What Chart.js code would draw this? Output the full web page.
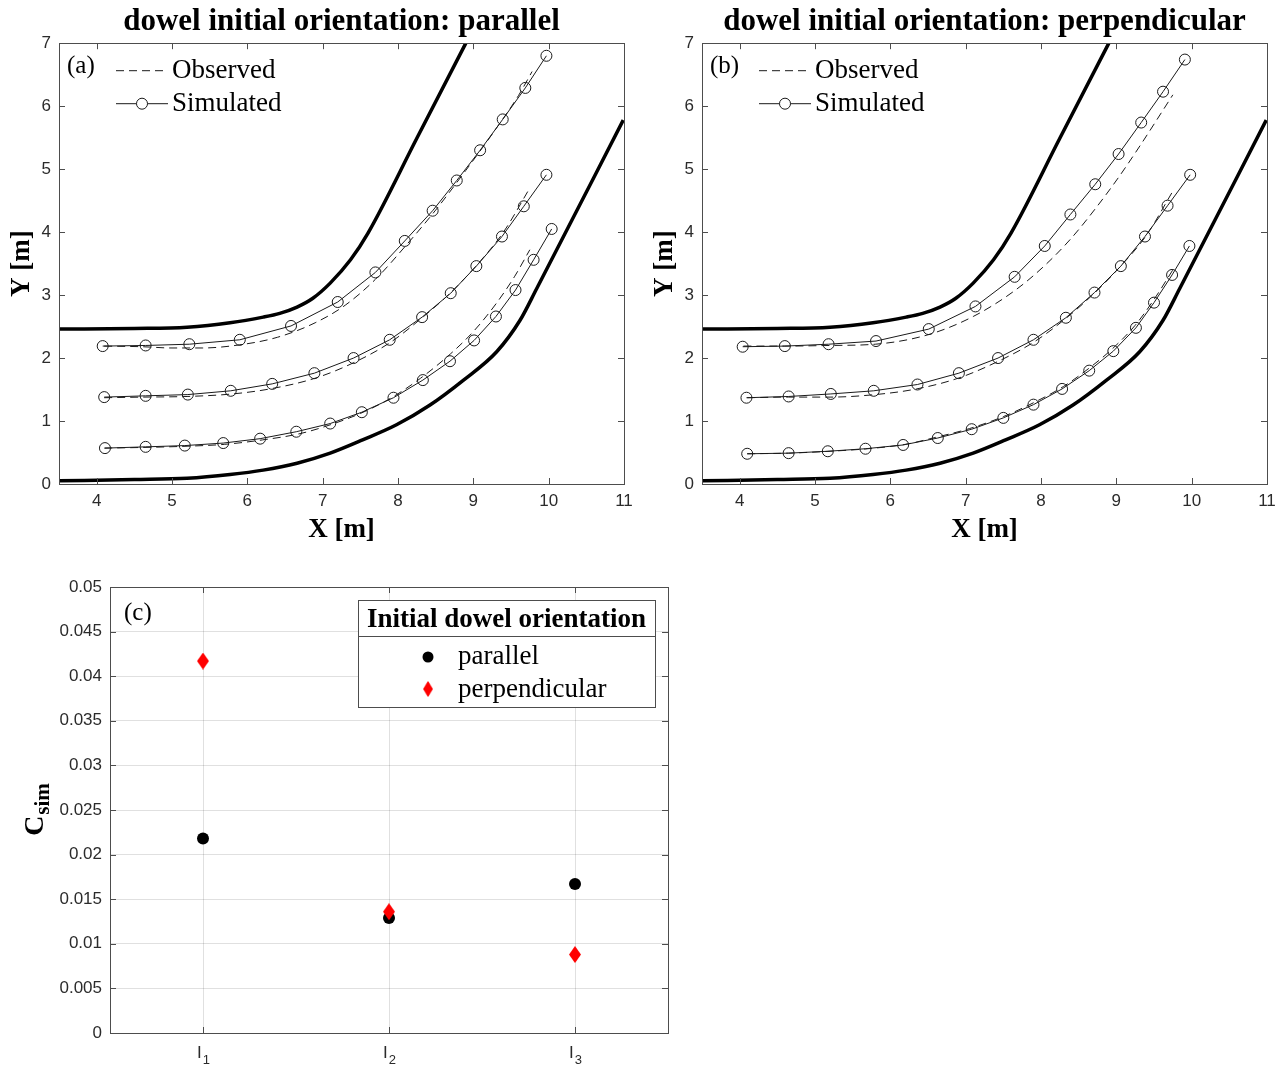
<!DOCTYPE html>
<html>
<head>
<meta charset="utf-8">
<script src="https://cdn.jsdelivr.net/npm/chart.js@4/dist/chart.umd.min.js"></script>
<style>
  body { margin: 0; background: #fff; }
  #wrap { position: relative; width: 1284px; height: 1068px; }
  canvas { position: absolute; }
</style>
</head>
<body>
<div id="wrap">
  <canvas id="chartA" width="642" height="550" style="left:0;top:0"></canvas>
  <canvas id="chartB" width="642" height="550" style="left:642px;top:0"></canvas>
  <canvas id="chartC" width="690" height="508" style="left:0;top:560px"></canvas>
</div>
<script>
const xTicks = [4, 5, 6, 7, 8, 9, 10, 11]
const yTicks = [0, 1, 2, 3, 4, 5, 6, 7]

// flume walls, same bend for both runs
const upperWall = [[3.5,2.46],[4.5,2.47],[5.2,2.49],[5.77,2.56],[6.21,2.65],[6.43,2.71],[6.66,2.81],[6.87,2.95],[7.1,3.19],[7.37,3.56],[7.6,3.98],[8.25,5.49],[8.9,7.0]]
const lowerWall = [[3.5,0.05],[4.5,0.07],[5.2,0.09],[5.77,0.15],[6.21,0.22],[6.66,0.33],[7.1,0.49],[7.53,0.7],[7.98,0.94],[8.42,1.25],[8.87,1.65],[9.31,2.1],[9.62,2.6],[9.84,3.1],[10.99,5.78]]

// (a) parallel dowels: observed / simulated tracks
const parTopObs = [[4.1,2.19],[4.6,2.18],[5.0,2.16],[5.4,2.16],[5.9,2.21],[6.4,2.33],[6.9,2.56],[7.3,2.84],[7.7,3.25],[8.1,3.78],[8.5,4.35],[8.9,4.98],[9.3,5.64],[9.6,6.17],[9.78,6.55]]
const parTopSim = [[4.08,2.19],[4.65,2.2],[5.23,2.22],[5.9,2.29],[6.58,2.51],[7.2,2.89],[7.7,3.36],[8.09,3.86],[8.46,4.34],[8.78,4.82],[9.09,5.3],[9.39,5.79],[9.69,6.29],[9.97,6.8]]
const parMidObs = [[4.1,1.37],[4.6,1.38],[5.2,1.39],[5.8,1.43],[6.3,1.51],[6.9,1.68],[7.4,1.92],[7.9,2.25],[8.3,2.62],[8.7,3.04],[9.1,3.55],[9.4,4.0],[9.75,4.7]]
const parMidSim = [[4.1,1.38],[4.65,1.4],[5.21,1.42],[5.78,1.48],[6.33,1.59],[6.89,1.76],[7.41,2.0],[7.89,2.29],[8.32,2.65],[8.7,3.03],[9.04,3.46],[9.38,3.93],[9.67,4.41],[9.97,4.91]]
const parLowObs = [[4.1,0.57],[4.6,0.58],[5.2,0.6],[5.7,0.63],[6.2,0.7],[6.7,0.8],[7.1,0.94],[7.5,1.12],[7.9,1.36],[8.3,1.68],[8.7,2.07],[9.0,2.42],[9.3,2.86],[9.55,3.3],[9.75,3.72]]
const parLowSim = [[4.11,0.57],[4.65,0.59],[5.17,0.61],[5.68,0.65],[6.17,0.72],[6.65,0.83],[7.1,0.96],[7.52,1.14],[7.94,1.37],[8.33,1.65],[8.69,1.95],[9.01,2.28],[9.3,2.66],[9.56,3.08],[9.8,3.56],[10.04,4.05]]

// (b) perpendicular dowels
const perTopObs = [[4.05,2.19],[4.6,2.19],[5.2,2.2],[5.8,2.22],[6.5,2.37],[7.1,2.66],[7.65,3.07],[8.05,3.47],[8.4,3.9],[8.72,4.37],[9.03,4.87],[9.33,5.4],[9.6,5.9],[9.75,6.18]]
const perTopSim = [[4.04,2.18],[4.6,2.19],[5.18,2.22],[5.81,2.27],[6.51,2.46],[7.13,2.82],[7.65,3.29],[8.05,3.78],[8.39,4.28],[8.72,4.76],[9.03,5.24],[9.33,5.74],[9.62,6.23],[9.91,6.74]]
const perMidObs = [[4.1,1.37],[4.65,1.38],[5.2,1.38],[5.8,1.42],[6.35,1.51],[6.9,1.68],[7.4,1.93],[7.9,2.25],[8.3,2.6],[8.7,3.02],[9.05,3.45],[9.4,3.95],[9.75,4.65]]
const perMidSim = [[4.09,1.37],[4.65,1.39],[5.21,1.43],[5.78,1.48],[6.36,1.58],[6.91,1.76],[7.43,2.0],[7.9,2.29],[8.33,2.64],[8.71,3.04],[9.06,3.46],[9.38,3.93],[9.68,4.42],[9.98,4.91]]
const perLowObs = [[4.1,0.48],[4.65,0.49],[5.2,0.52],[5.7,0.56],[6.2,0.63],[6.6,0.74],[7.05,0.88],[7.5,1.07],[7.9,1.29],[8.3,1.55],[8.65,1.85],[8.95,2.15],[9.25,2.52],[9.5,2.93],[9.75,3.4]]
const perLowSim = [[4.1,0.48],[4.65,0.49],[5.17,0.52],[5.67,0.56],[6.17,0.62],[6.63,0.73],[7.08,0.87],[7.5,1.05],[7.9,1.26],[8.28,1.51],[8.64,1.8],[8.96,2.11],[9.26,2.48],[9.5,2.88],[9.74,3.32],[9.97,3.78]]

// (c) similarity coefficient per run
const runs = ['I1', 'I2', 'I3']
const csimParallel = [0.0218, 0.0129, 0.0167]
const csimPerpendicular = [0.0417, 0.0136, 0.0088]
const csimTicks = [0, 0.005, 0.01, 0.015, 0.02, 0.025, 0.03, 0.035, 0.04, 0.045, 0.05]

const serif = '"Liberation Serif", "Times New Roman", serif'
const sans = '"Liberation Sans", Arial, sans-serif'
const axisColor = '#4d4d4d'
const lineColor = '#1a1a1a'
const dash = [8, 5]

Chart.defaults.font.family = sans
Chart.defaults.font.size = 17
Chart.defaults.color = '#2b2b2b'

const xy = pts => pts.map(p => ({ x: p[0], y: p[1] }))

// matlab style box with inward ticks on all four sides
const boxTicks = {
  id: 'boxTicks',
  afterDatasetsDraw(chart) {
    const { ctx, chartArea: a, scales: { x, y } } = chart
    const len = 6
    ctx.save()
    ctx.strokeStyle = axisColor
    ctx.lineWidth = 1
    ctx.beginPath()
    x.ticks.forEach((t, i) => {
      const px = Math.round(x.getPixelForTick(i)) + 0.5
      ctx.moveTo(px, a.bottom); ctx.lineTo(px, a.bottom - len)
      ctx.moveTo(px, a.top); ctx.lineTo(px, a.top + len)
    })
    y.ticks.forEach((t, i) => {
      const py = Math.round(y.getPixelForTick(i)) + 0.5
      ctx.moveTo(a.left, py); ctx.lineTo(a.left + len, py)
      ctx.moveTo(a.right, py); ctx.lineTo(a.right - len, py)
    })
    ctx.stroke()
    ctx.strokeRect(Math.round(a.left) + 0.5, Math.round(a.top) + 0.5, Math.round(a.right - a.left), Math.round(a.bottom - a.top))
    ctx.restore()
  }
}

const pathLegend = {
  id: 'pathLegend',
  afterDatasetsDraw(chart, args, opts) {
    const { ctx, chartArea: a } = chart
    const x0 = a.left + 57, x1 = a.left + 109
    ctx.save()
    ctx.fillStyle = '#000'
    ctx.textBaseline = 'middle'
    ctx.font = '25px ' + serif
    ctx.fillText(opts.tag, a.left + 8, a.top + 23)
    ctx.strokeStyle = lineColor
    ctx.lineWidth = 1
    ctx.setLineDash(dash)
    ctx.beginPath(); ctx.moveTo(x0, a.top + 27.5); ctx.lineTo(x1, a.top + 27.5); ctx.stroke()
    ctx.setLineDash([])
    ctx.beginPath(); ctx.moveTo(x0, a.top + 60.5); ctx.lineTo(x1, a.top + 60.5); ctx.stroke()
    ctx.fillStyle = '#fff'
    ctx.beginPath(); ctx.arc((x0 + x1) / 2, a.top + 60.5, 5.5, 0, Math.PI * 2); ctx.fill(); ctx.stroke()
    ctx.fillStyle = '#000'
    ctx.font = '27px ' + serif
    ctx.fillText('Observed', x1 + 4, a.top + 28)
    ctx.fillText('Simulated', x1 + 4, a.top + 61)
    ctx.restore()
  }
}

function track(pts, observed) {
  return observed
    ? { data: xy(pts), borderColor: lineColor, borderWidth: 1, borderDash: dash, pointRadius: 0, cubicInterpolationMode: 'monotone' }
    : { data: xy(pts), borderColor: lineColor, borderWidth: 1, pointRadius: 5.5, pointStyle: 'circle',
        pointBorderColor: lineColor, pointBackgroundColor: 'rgba(0,0,0,0)', pointBorderWidth: 1, tension: 0 }
}

function wall(pts) {
  return { data: xy(pts), borderColor: '#000', borderWidth: 3.5, pointRadius: 0, cubicInterpolationMode: 'monotone' }
}

function pathChart(id, title, tag, tracks, rightPad, yWidth, yTitlePad) {
  return new Chart(document.getElementById(id), {
    type: 'line',
    data: {
      datasets: [wall(upperWall), wall(lowerWall)].concat(
        tracks.map((t, i) => track(t, i % 2 === 0)))
    },
    options: {
      responsive: false,
      animation: false,
      layout: { padding: { right: rightPad } },
      plugins: {
        legend: { display: false },
        tooltip: { enabled: false },
        title: {
          display: true, text: title, fullSize: false, color: '#000',
          font: { family: serif, size: 31, weight: 'bold' },
          padding: { top: 3, bottom: 3 }
        },
        pathLegend: { tag: tag }
      },
      scales: {
        x: {
          type: 'linear', min: 3.5, max: 11,
          afterBuildTicks: s => { s.ticks = xTicks.map(v => ({ value: v })) },
          afterFit: s => { s.height = 66 },
          grid: { display: false, drawTicks: false },
          border: { display: false },
          ticks: { padding: 7, maxRotation: 0 },
          title: { display: true, text: 'X [m]', color: '#000', font: { family: serif, size: 27, weight: 'bold' }, padding: { top: 0, bottom: 4 } }
        },
        y: {
          type: 'linear', min: 0, max: 7,
          afterBuildTicks: s => { s.ticks = yTicks.map(v => ({ value: v })) },
          afterFit: s => { s.width = yWidth },
          grid: { display: false, drawTicks: false },
          border: { display: false },
          ticks: { padding: 8 },
          title: { display: true, text: 'Y [m]', color: '#000', font: { family: serif, size: 27, weight: 'bold' }, padding: { top: yTitlePad, bottom: 0 } }
        }
      }
    },
    plugins: [boxTicks, pathLegend]
  })
}

pathChart('chartA', 'dowel initial orientation: parallel', '(a)',
  [parTopObs, parTopSim, parMidObs, parMidSim, parLowObs, parLowSim], 18, 59, 6)
pathChart('chartB', 'dowel initial orientation: perpendicular', '(b)',
  [perTopObs, perTopSim, perMidObs, perMidSim, perLowObs, perLowSim], 17, 60, 7)

// red diamond marker, taller than wide
function diamond(w, h, color) {
  const c = document.createElement('canvas')
  c.width = w; c.height = h
  const g = c.getContext('2d')
  g.fillStyle = color
  g.beginPath()
  g.moveTo(w / 2, 0); g.lineTo(w, h / 2); g.lineTo(w / 2, h); g.lineTo(0, h / 2)
  g.closePath(); g.fill()
  return c
}
const redDiamond = diamond(12, 17, '#ff0000')

const csimLegend = {
  id: 'csimLegend',
  afterDatasetsDraw(chart) {
    const { ctx, chartArea: a, scales: { x } } = chart
    const bx = a.left + 248, by = a.top + 13, bw = 297, bh = 107
    ctx.save()
    ctx.fillStyle = '#fff'
    ctx.fillRect(bx, by, bw, bh)
    ctx.strokeStyle = axisColor
    ctx.lineWidth = 1
    ctx.strokeRect(Math.round(bx) + 0.5, Math.round(by) + 0.5, bw, bh)
    ctx.beginPath()
    ctx.moveTo(bx, Math.round(by + 36) + 0.5); ctx.lineTo(bx + bw, Math.round(by + 36) + 0.5)
    ctx.stroke()
    ctx.fillStyle = '#000'
    ctx.textBaseline = 'middle'
    ctx.textAlign = 'center'
    ctx.font = 'bold 27px ' + serif
    ctx.fillText('Initial dowel orientation', bx + bw / 2, by + 20)
    ctx.textAlign = 'left'
    ctx.font = '27px ' + serif
    ctx.beginPath(); ctx.arc(bx + 70, by + 57, 5.5, 0, Math.PI * 2); ctx.fill()
    ctx.fillText('parallel', bx + 100, by + 57)
    ctx.drawImage(redDiamond, bx + 70 - 5, by + 89 - 8, 10, 16)
    ctx.fillText('perpendicular', bx + 100, by + 90)
    ctx.font = '25px ' + serif
    ctx.fillText('(c)', a.left + 14, a.top + 26)

    // run labels with subscript index
    ctx.fillStyle = '#2b2b2b'
    ctx.textBaseline = 'alphabetic'
    runs.forEach((r, i) => {
      const px = x.getPixelForTick(i)
      ctx.font = '17px ' + sans
      const wi = ctx.measureText(r[0]).width
      ctx.font = '13px ' + sans
      const wd = ctx.measureText(r.slice(1)).width
      const left = px - (wi + wd) / 2
      ctx.font = '17px ' + sans
      ctx.fillText(r[0], left, a.bottom + 25)
      ctx.font = '13px ' + sans
      ctx.fillText(r.slice(1), left + wi + 1, a.bottom + 31)
    })

    // C_sim axis title with subscript
    ctx.fillStyle = '#000'
    ctx.translate(a.left - 77, (a.top + a.bottom) / 2)
    ctx.rotate(-Math.PI / 2)
    ctx.font = 'bold 28px ' + serif
    const wc = ctx.measureText('C').width
    ctx.font = 'bold 21px ' + serif
    const ws = ctx.measureText('sim').width
    const u0 = -(wc + ws) / 2
    ctx.font = 'bold 28px ' + serif
    ctx.fillText('C', u0, 10)
    ctx.font = 'bold 21px ' + serif
    ctx.fillText('sim', u0 + wc + 1, 16)
    ctx.restore()
  }
}

new Chart(document.getElementById('chartC'), {
  type: 'line',
  data: {
    labels: runs,
    datasets: [
      { label: 'parallel', data: csimParallel, showLine: false, order: 1,
        pointStyle: 'circle', pointRadius: 6, pointBackgroundColor: '#000', pointBorderColor: '#000', pointBorderWidth: 0 },
      { label: 'perpendicular', data: csimPerpendicular, showLine: false, order: 0,
        pointStyle: redDiamond, pointRadius: 6 }
    ]
  },
  options: {
    responsive: false,
    animation: false,
    layout: { padding: { top: 27, right: 22 } },
    plugins: { legend: { display: false }, tooltip: { enabled: false } },
    scales: {
      x: {
        type: 'category', offset: true,
        afterFit: s => { s.height = 35 },
        grid: { display: true, offset: false, drawTicks: false, color: 'rgba(0,0,0,0.12)' },
        border: { display: false },
        ticks: { display: false }
      },
      y: {
        type: 'linear', min: 0, max: 0.05,
        afterBuildTicks: s => { s.ticks = csimTicks.map(v => ({ value: v })) },
        afterFit: s => { s.width = 110 },
        grid: { display: true, drawTicks: false, color: 'rgba(0,0,0,0.12)' },
        border: { display: false },
        ticks: { padding: 8, callback: v => String(+v.toFixed(3)) }
      }
    }
  },
  plugins: [boxTicks, csimLegend]
})
</script>
</body>
</html>
